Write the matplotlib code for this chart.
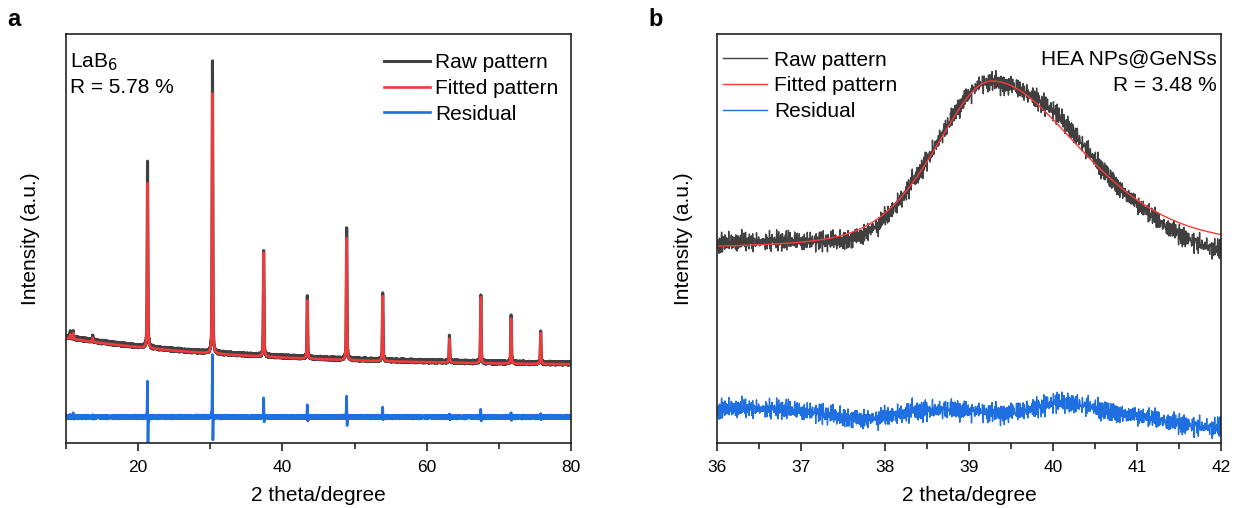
import numpy as np
import matplotlib.pyplot as plt

plt.rcParams['font.family'] = ['Liberation Sans', 'DejaVu Sans']

# ---- panel a: LaB6 standard (intensities in arbitrary units) ----
a_bg = [77.0, 28.0, 25.0]          # flat level, extra rise at 10 deg, decay length (deg)
a_pos = [10.6, 11.0, 13.7, 21.3, 30.3, 37.4, 43.45, 48.9, 53.9, 63.15, 67.5, 71.7, 75.8]
a_fit_h = [4, 6, 4, 165, 260, 104, 58, 122, 65, 24, 66, 45, 31]
a_raw_h = [5, 7, 5, 187, 292, 106, 61, 131, 67, 25, 67, 46, 32]
a_res_up = [2, 3, 2, 50, 78, 23, 15, 25, 12, 4, 9, 5, 4]
a_res_dn = [1, 1, 1, 45, 45, 11, 8, 15, 6, 3, 6, 4, 3]
a_res_offset = 26.0

# ---- panel b: HEA NPs@GeNSs ----
b_base = 193.0
b_peak = [39.27, 169.0, 0.80, 1.25, 0.4]   # centre, height, left hwhm, right hwhm, lorentz share
# slow misfit bumps of the residual: centre, height, sigma
b_dev_c = [36.4, 37.75, 38.7, 39.5, 40.1, 41.9]
b_dev_h = [4.0, -8.0, 2.0, -3.0, 10.0, -15.0]
b_dev_s = [0.40, 0.30, 0.50, 0.30, 0.30, 0.55]
b_spike_x = [38.32, 41.35]
b_spike_h = [12.0, -8.0]
b_res_offset = 31.0

# measurement noise tables (typed)
noise1 = [0.12, -0.58, 0.83, -0.21, 0.47, -0.93, 0.05, 0.66, -0.37, -0.74, 0.29, 0.91, -0.15, -0.52,
          0.71, -0.88, 0.34, 0.02, -0.69, 0.55, -0.27, 0.78, -0.44, 0.19, -0.97, 0.63, 0.08, -0.33,
          0.86, -0.61, 0.41, -0.09, -0.79, 0.24, 0.95, -0.48, 0.16, -0.71, 0.58, -0.03, 0.37, -0.86,
          0.73, -0.18, -0.56, 0.89, -0.24, 0.11, -0.65, 0.49, 0.81, -0.39, -0.92, 0.27, 0.64, -0.13,
          0.44, -0.77, 0.06, 0.98, -0.31, -0.60, 0.21, -0.84, 0.52, 0.35, -0.06, -0.47, 0.76, -0.95,
          0.14, 0.60, -0.26, 0.87, -0.68, 0.03, -0.42, 0.69, 0.31, -0.81, 0.45, -0.12, 0.93, -0.54,
          -0.20, 0.57, -0.89, 0.18, 0.74, -0.35, 0.09, -0.63, 0.40, -0.99, 0.67, 0.26, -0.45]
noise2 = [0.44, -0.17, -0.82, 0.61, 0.08, -0.55, 0.93, -0.36, 0.23, -0.71, 0.50, 0.85, -0.04, -0.93,
          0.32, 0.67, -0.49, 0.14, -0.26, 0.78, -0.62, 0.01, 0.54, -0.87, 0.39, -0.11, 0.72, -0.44,
          0.96, -0.30, -0.67, 0.20, 0.59, -0.78, 0.07, -0.50, 0.88, 0.28, -0.15, -0.96, 0.46, 0.63,
          -0.23, 0.81, -0.58, 0.12, -0.39, 0.70, -0.84, 0.35, 0.04, -0.69, 0.57]


def pv(x, c, w, eta=0.5):
    d = (x - c) / w
    return (1 - eta) * np.exp(-np.log(2) * d ** 2) + eta / (1 + d ** 2)


def noise(n):
    i = np.arange(n)
    return 0.7 * np.array(noise1)[i % len(noise1)] + 0.5 * np.array(noise2)[i % len(noise2)]


# build panel a curves
xa = np.arange(10, 80.0001, 0.01)
bg = a_bg[0] + a_bg[1] * np.exp(-(xa - 10) / a_bg[2])
fit_a = bg.copy()
raw_a = bg + 1.0 + 1.8 * noise(len(xa))
res_a = a_res_offset + 1.8 * noise(len(xa))[::-1]
for p, hf, hr, up, dn in zip(a_pos, a_fit_h, a_raw_h, a_res_up, a_res_dn):
    fit_a += hf * pv(xa, p, 0.06)
    raw_a += hr * pv(xa, p, 0.055)
    res_a += up * pv(xa, p, 0.04) - dn * pv(xa, p + 0.05, 0.04)

# build panel b curves
xb = np.arange(36, 42.0001, 0.005)
c, h, wl, wr, eta = b_peak
fit_b = b_base + h * np.where(xb < c, pv(xb, c, wl, eta), pv(xb, c, wr, eta))
dev = np.zeros_like(xb)
for cc, hh, ss in zip(b_dev_c, b_dev_h, b_dev_s):
    dev += hh * np.exp(-(xb - cc) ** 2 / (2 * ss ** 2))
for sx, sh in zip(b_spike_x, b_spike_h):
    dev += sh * np.exp(-(xb - sx) ** 2 / (2 * 0.004 ** 2))
dev += 10.5 * noise(len(xb))
raw_b = fit_b + dev
res_b = b_res_offset + dev

gray = '#404040'
red = '#ef3b3b'
blue = '#1f6fe0'

fig = plt.figure(figsize=(12.36, 5.08), dpi=100)
ax1 = fig.add_axes([66 / 1236, 65 / 508, 505 / 1236, 409 / 508])
ax2 = fig.add_axes([717 / 1236, 65 / 508, 504 / 1236, 409 / 508])

ax1.plot(xa, raw_a, color=gray, lw=2.2, label='Raw pattern')
ax1.plot(xa, fit_a, color=red, lw=1.9, label='Fitted pattern')
ax1.plot(xa, res_a, color=blue, lw=1.9, label='Residual')
ax1.set_xlim(10, 80)
ax1.set_ylim(0, 409)
ax1.set_xticks([20, 40, 60, 80])
ax1.set_xticks([10, 30, 50, 70], minor=True)

ax2.plot(xb, raw_b, color=gray, lw=1.0, label='Raw pattern')
ax2.plot(xb, fit_b, color='#ff3a3a', lw=1.0, label='Fitted pattern')
ax2.plot(xb, res_b, color=blue, lw=1.0, label='Residual')
ax2.set_xlim(36, 42)
ax2.set_ylim(0, 409)
ax2.set_xticks(np.arange(36, 43, 1))
ax2.set_xticks(np.arange(36.5, 42, 1), minor=True)

for ax in (ax1, ax2):
    ax.set_yticks([])
    for s in ax.spines.values():
        s.set_linewidth(1.2)
        s.set_color('#222222')
    ax.tick_params(axis='x', which='major', direction='out', length=6, width=1.2,
                   labelsize=12.5, pad=6, color='#222222')
    ax.tick_params(axis='x', which='minor', direction='out', length=4, width=1.2, color='#222222')
    ax.set_xlabel('2 theta/degree', fontsize=15, labelpad=8)
    ax.set_ylabel('Intensity (a.u.)', fontsize=15)

ax1.yaxis.set_label_coords(-0.051, 0.5)
ax2.yaxis.set_label_coords(-0.048, 0.5)

ax1.legend(loc='upper right', bbox_to_anchor=(1.0, 0.983), frameon=False, fontsize=15,
           handlelength=2.2, handletextpad=0.25, labelspacing=0.32, borderaxespad=0.2)
ax2.legend(loc='upper left', bbox_to_anchor=(-0.012, 0.99), frameon=False, fontsize=15,
           handlelength=2.1, handletextpad=0.35, labelspacing=0.32, borderaxespad=0.2)

ax1.text(0.008, 0.931, 'LaB$_6$', transform=ax1.transAxes, fontsize=15, va='center', ha='left')
ax1.text(0.008, 0.868, 'R = 5.78 %', transform=ax1.transAxes, fontsize=15, va='center', ha='left')
ax2.text(0.992, 0.938, 'HEA NPs@GeNSs', transform=ax2.transAxes, fontsize=15, va='center', ha='right')
ax2.text(0.992, 0.874, 'R = 3.48 %', transform=ax2.transAxes, fontsize=15, va='center', ha='right')

fig.text(14 / 1236, 1 - 20 / 508, 'a', fontsize=17, fontweight='bold', ha='center', va='center')
fig.text(656 / 1236, 1 - 20 / 508, 'b', fontsize=17, fontweight='bold', ha='center', va='center')

fig.savefig('out.png', dpi=100)
